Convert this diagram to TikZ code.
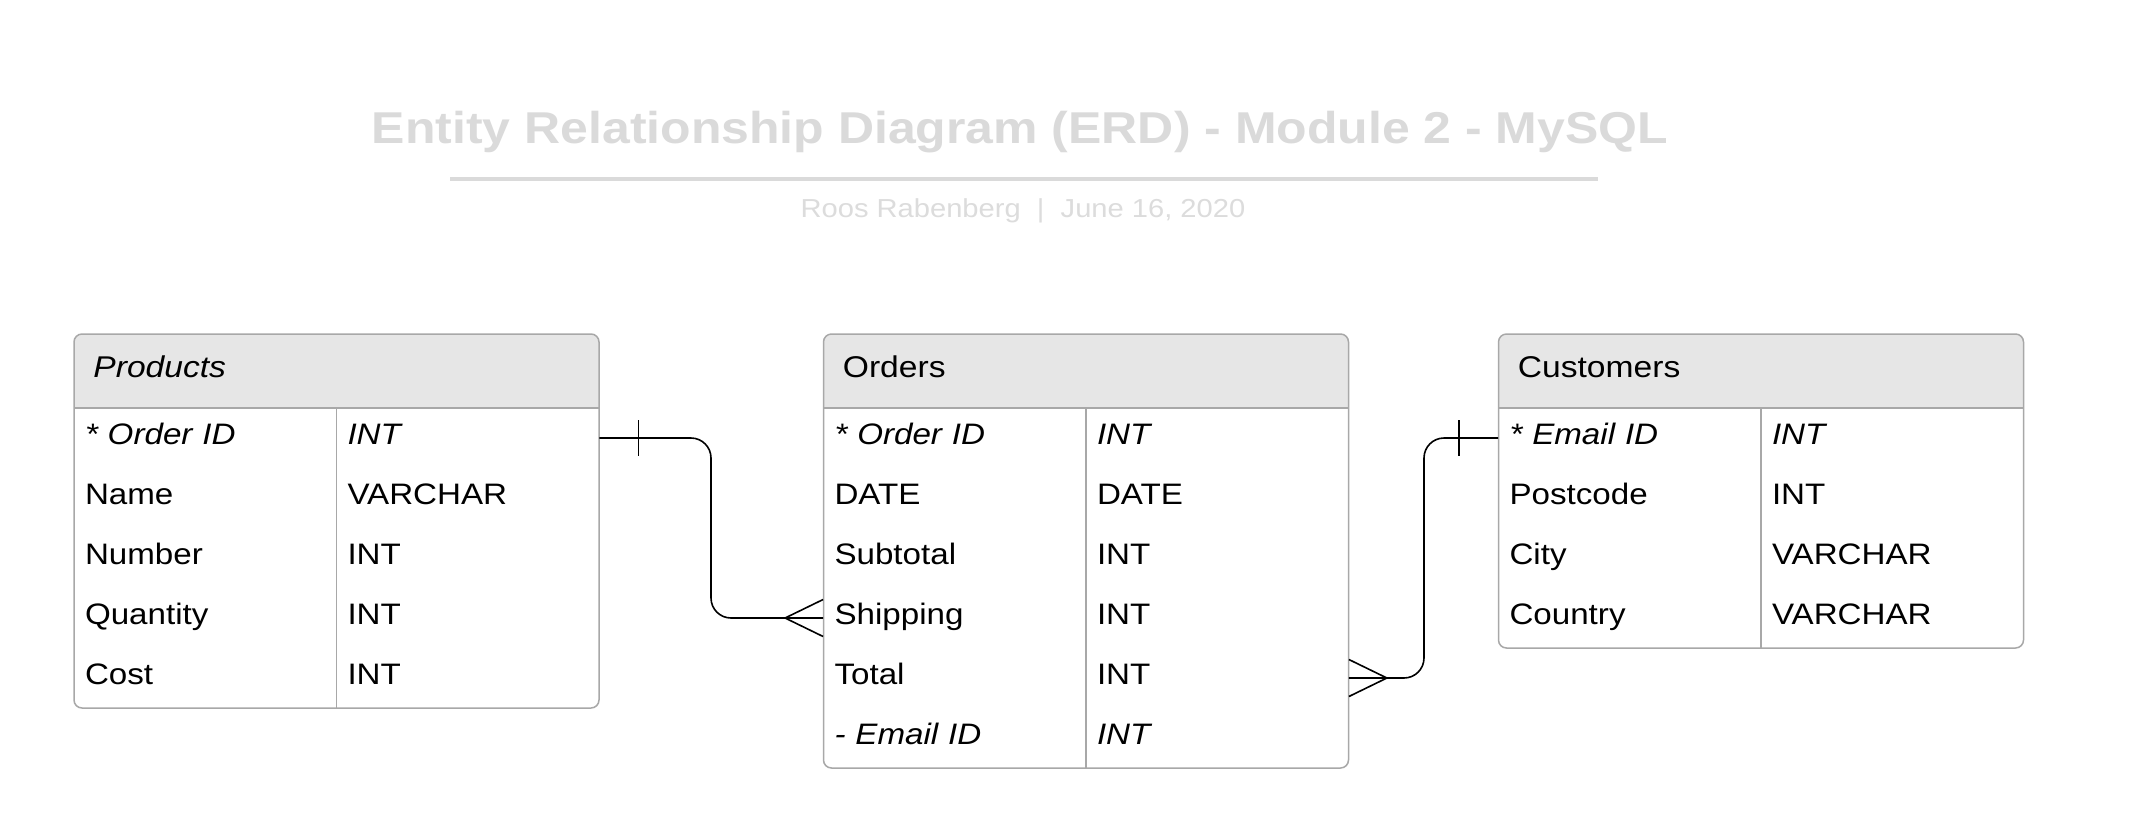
\documentclass[tikz,border=0pt]{standalone}
\usepackage{fontspec}
\setmainfont[FakeStretch=1.12]{Liberation Sans}
\usetikzlibrary{calc}
\definecolor{bordergray}{HTML}{A8A8A8}
\definecolor{hdrfill}{HTML}{E6E6E6}
\definecolor{titlegray}{HTML}{DADADA}
\definecolor{subgray}{HTML}{DCDCDC}
\tikzset{
  tblborder/.style={draw=bordergray, line width=0.75pt},
  cell/.style={rectangle, inner xsep=5.5pt, inner ysep=0pt, text width=120.25pt,
    minimum height=30pt, align=left, text height=10.4pt, text depth=4pt,
    font=\fontsize{14.8}{16}\selectfont},
  hdrtext/.style={anchor=base west, inner sep=0pt, font=\fontsize{15}{17}\selectfont},
  conn/.style={line width=0.8pt, black},
}
\newcommand\erdtable[4]{% #1 name, #2 left x, #3 rows, #4 header text
  \fill[white, rounded corners=4pt] (#2,334) rectangle (#2+525,408+60*#3);
  \fill[hdrfill] (#2,408) [rounded corners=4pt] -- (#2,334) -- (#2+525,334) [sharp corners] -- (#2+525,408) -- cycle;
  \draw[tblborder] (#2,408) -- (#2+525,408);
  \draw[tblborder] (#2+262.5,408) -- (#2+262.5,408+60*#3);
  \draw[tblborder, rounded corners=4pt] (#2,334) rectangle (#2+525,408+60*#3);
  \node[hdrtext] (#1-hdr) at (#2+19,377) {#4};
}
\newcommand\erdrows[3]{% #1 name, #2 left x, #3 list
  \foreach \i/\a/\b in {#3} {
    \node[cell] (#1-\i a) at (#2+131.25, 378+60*\i) {\a};
    \node[cell] (#1-\i b) at (#2+393.75, 378+60*\i) {\b};
  }%
}
\begin{document}
\begin{tikzpicture}[x=0.5pt, y=-0.5pt]
  \fill[white] (0,0) rectangle (2149,821);
  \useasboundingbox (0,0) rectangle (2149,821);

  % title
  \node[anchor=base, inner sep=0pt, font=\bfseries\fontsize{22.3}{26}\selectfont, text=titlegray] (title) at (1020,143)
    {Entity Relationship Diagram (ERD) - Module 2 - MySQL};
  \draw[titlegray, line width=1.75pt] (450,179) -- (1598,179);
  \node[anchor=base, inner sep=0pt, font=\fontsize{13}{16}\selectfont, text=subgray] (subtitle) at (1023,217)
    {Roos Rabenberg\ \ |\ \ June 16, 2020};

  % tables
  \erdtable{prod}{74}{5}{\itshape Products}
  \erdrows{prod}{74}{1/{\itshape * Order ID}/{\itshape INT}, 2/Name/VARCHAR, 3/Number/INT, 4/Quantity/INT, 5/Cost/INT}

  \erdtable{ord}{823.5}{6}{Orders}
  \erdrows{ord}{823.5}{1/{\itshape * Order ID}/{\itshape INT}, 2/DATE/DATE, 3/Subtotal/INT, 4/Shipping/INT, 5/Total/INT, 6/{\itshape - Email ID}/{\itshape INT}}

  \erdtable{cust}{1498.5}{4}{Customers}
  \erdrows{cust}{1498.5}{1/{\itshape * Email ID}/{\itshape INT}, 2/Postcode/INT, 3/City/VARCHAR, 4/Country/VARCHAR}

  % connector Products -> Orders
  \coordinate (j1) at (711,438);
  \draw[conn, rounded corners=10pt] (prod-1b.east) -| (j1 |- ord-4a.west) -- (ord-4a.west);
  \draw[conn] ($(prod-1b.east)+(39,-18)$) -- ($(prod-1b.east)+(39,18)$);
  \draw[conn] ($(ord-4a.west)+(-38,0)$) -- ($(ord-4a.west)+(0,-18.5)$);
  \draw[conn] ($(ord-4a.west)+(-38,0)$) -- ($(ord-4a.west)+(0,18.5)$);

  % connector Orders -> Customers
  \coordinate (j2) at (1424,438);
  \draw[conn, rounded corners=10pt] (ord-5b.east) -| (j2 |- cust-1a.west) -- (cust-1a.west);
  \draw[conn] ($(cust-1a.west)+(-39,-18)$) -- ($(cust-1a.west)+(-39,18)$);
  \draw[conn] ($(ord-5b.east)+(38,0)$) -- ($(ord-5b.east)+(0,-18.5)$);
  \draw[conn] ($(ord-5b.east)+(38,0)$) -- ($(ord-5b.east)+(0,18.5)$);
\end{tikzpicture}
\end{document}
